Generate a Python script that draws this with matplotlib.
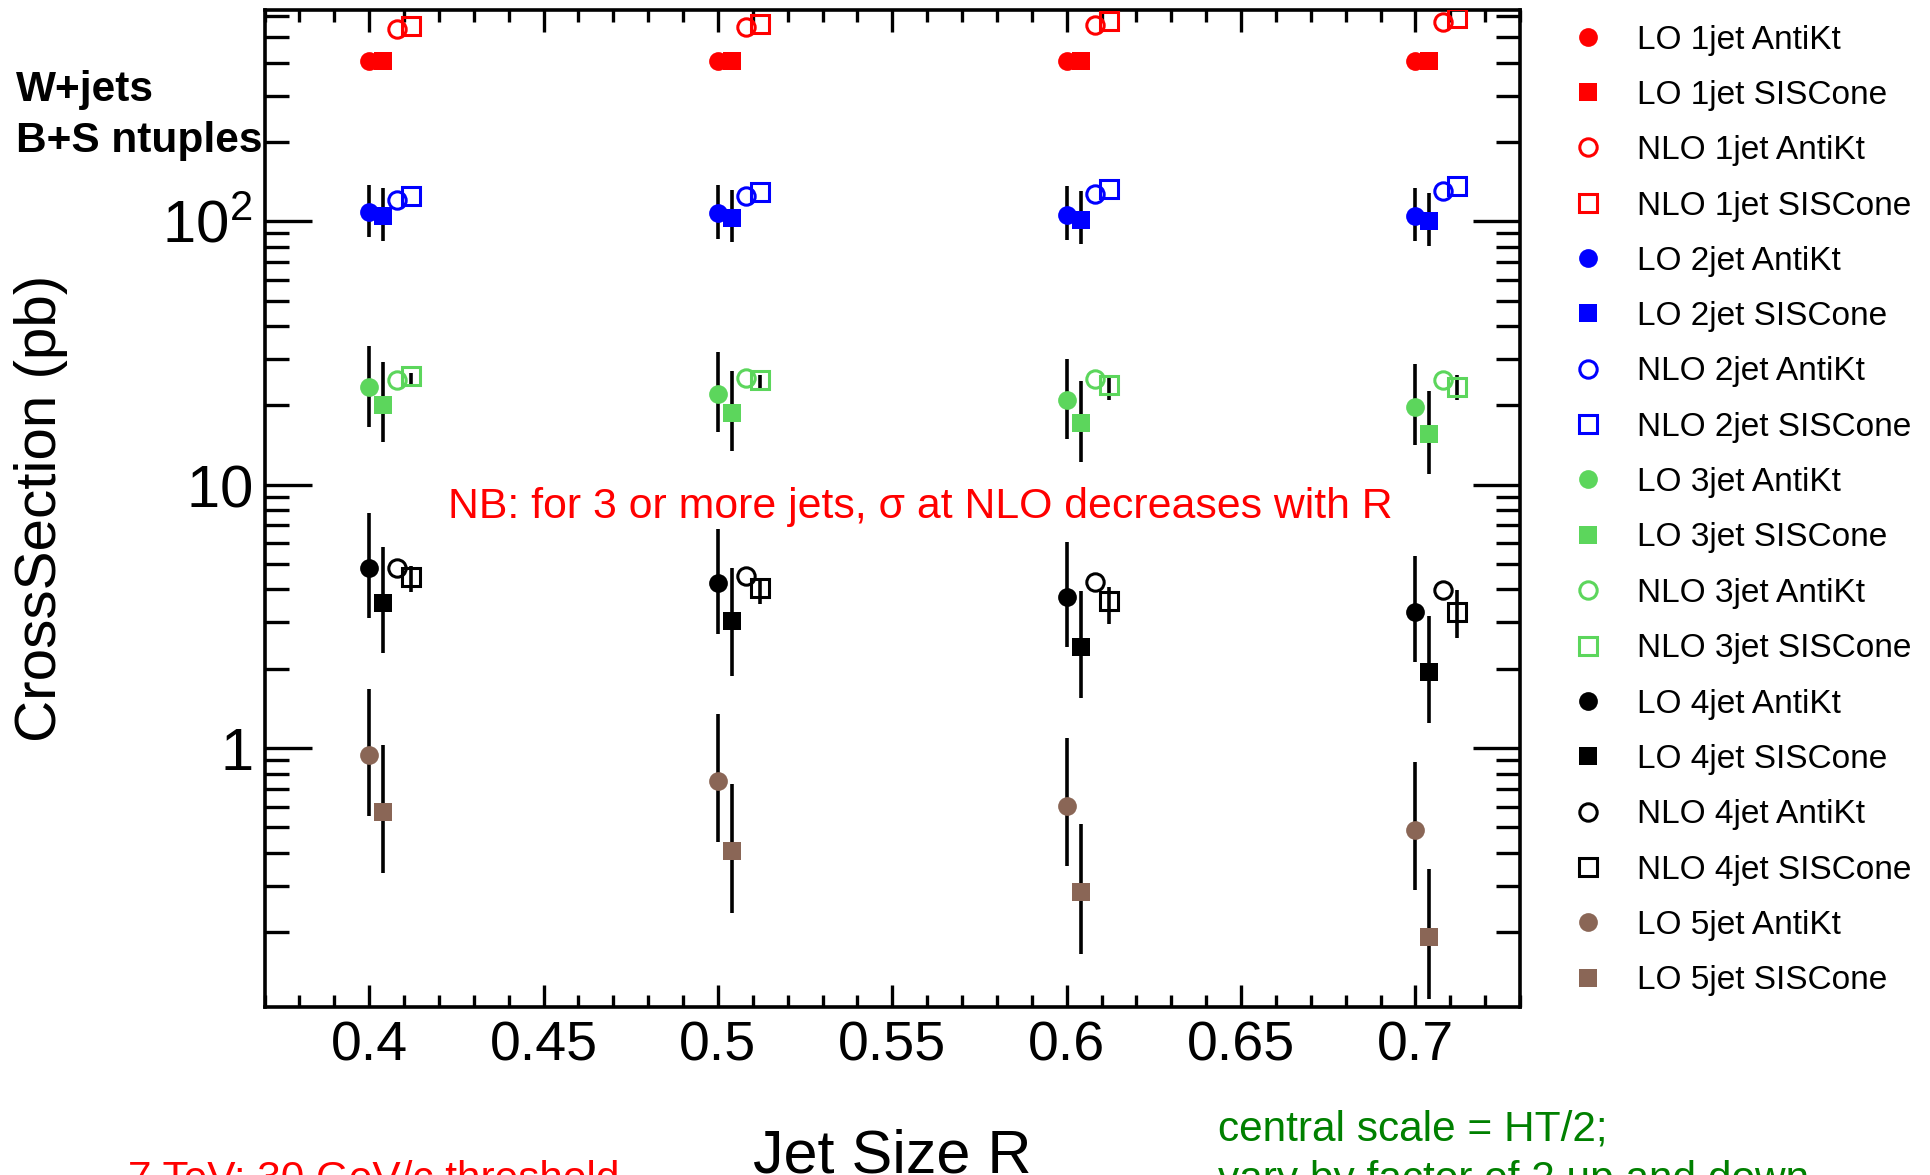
import matplotlib
matplotlib.use("Agg")
import matplotlib.pyplot as plt
import numpy as np
from matplotlib.ticker import MultipleLocator, LogLocator, StrMethodFormatter, NullFormatter

plt.rcParams['font.family'] = ['Liberation Sans', 'DejaVu Sans']
plt.rcParams['mathtext.fontset'] = 'custom'
plt.rcParams['mathtext.rm'] = 'Liberation Sans'
plt.rcParams['axes.formatter.min_exponent'] = 2

# jet size R, points of one R are drawn side by side
R = np.array([0.4, 0.5, 0.6, 0.7])
offsets = [0.0, 0.004, 0.008, 0.012]  # LO AntiKt, LO SISCone, NLO AntiKt, NLO SISCone

# cross sections (pb); *_lo / *_hi are scale-variation bounds
lo1_akt = [405, 405, 405, 405]
lo1_sis = [405, 405, 405, 405]
nlo1_akt = [535, 546, 558, 571]
nlo1_sis = [550, 561, 578, 591]

lo2_akt = [108, 107.6, 106, 105]
lo2_akt_lo = [86.9, 85.9, 85.1, 84.5]
lo2_akt_hi = [137.8, 137, 135.8, 133.7]
lo2_sis = [104.5, 103, 101.5, 100.6]
lo2_sis_lo = [84.5, 83.4, 82.0, 80.9]
lo2_sis_hi = [133.7, 131.9, 130, 128]
nlo2_akt = [120, 124.4, 127, 130]
nlo2_sis = [125, 129, 132.8, 135.8]

lo3_akt = [23.4, 22.1, 20.9, 19.8]
lo3_akt_lo = [16.5, 15.8, 14.9, 14.1]
lo3_akt_hi = [33.5, 31.8, 29.9, 28.6]
lo3_sis = [20.1, 18.7, 17.1, 15.6]
lo3_sis_lo = [14.5, 13.4, 12.2, 11.0]
lo3_sis_hi = [29.3, 27.1, 24.8, 22.6]
nlo3_akt = [25.0, 25.3, 25.2, 24.9]
nlo3_sis = [25.8, 24.9, 24.0, 23.5]
nlo3_sis_lo = [23.5, 22.6, 20.9, 21.0]
nlo3_sis_hi = [26.5, 26.0, 25.5, 26.0]

lo4_akt = [4.83, 4.24, 3.73, 3.30]
lo4_akt_lo = [3.13, 2.71, 2.41, 2.12]
lo4_akt_hi = [7.8, 6.8, 6.04, 5.34]
lo4_sis = [3.56, 3.03, 2.41, 1.94]
lo4_sis_lo = [2.30, 1.87, 1.55, 1.24]
lo4_sis_hi = [5.78, 4.83, 3.94, 3.16]
nlo4_akt = [4.81, 4.51, 4.26, 3.98]
nlo4_sis = [4.45, 4.06, 3.63, 3.30]
nlo4_sis_lo = [3.9, 3.52, 2.96, 2.61]
nlo4_sis_hi = [4.9, 4.39, 4.1, 3.98]

lo5_akt = [0.94, 0.748, 0.605, 0.49]
lo5_akt_lo = [0.554, 0.439, 0.356, 0.288]
lo5_akt_hi = [1.68, 1.35, 1.09, 0.883]
lo5_sis = [0.57, 0.406, 0.285, 0.191]
lo5_sis_lo = [0.335, 0.237, 0.166, 0.112]
lo5_sis_hi = [1.03, 0.731, 0.515, 0.346]

red, blue, green, black, brown = '#ff0000', '#0000ff', '#5cd65c', '#000000', '#8a6656'

# (label, values, low, high, colour, marker, filled, offset index)
series = [
    ('LO 1jet AntiKt', lo1_akt, None, None, red, 'o', True, 0),
    ('LO 1jet SISCone', lo1_sis, None, None, red, 's', True, 1),
    ('NLO 1jet AntiKt', nlo1_akt, None, None, red, 'o', False, 2),
    ('NLO 1jet SISCone', nlo1_sis, None, None, red, 's', False, 3),
    ('LO 2jet AntiKt', lo2_akt, lo2_akt_lo, lo2_akt_hi, blue, 'o', True, 0),
    ('LO 2jet SISCone', lo2_sis, lo2_sis_lo, lo2_sis_hi, blue, 's', True, 1),
    ('NLO 2jet AntiKt', nlo2_akt, None, None, blue, 'o', False, 2),
    ('NLO 2jet SISCone', nlo2_sis, None, None, blue, 's', False, 3),
    ('LO 3jet AntiKt', lo3_akt, lo3_akt_lo, lo3_akt_hi, green, 'o', True, 0),
    ('LO 3jet SISCone', lo3_sis, lo3_sis_lo, lo3_sis_hi, green, 's', True, 1),
    ('NLO 3jet AntiKt', nlo3_akt, None, None, green, 'o', False, 2),
    ('NLO 3jet SISCone', nlo3_sis, nlo3_sis_lo, nlo3_sis_hi, green, 's', False, 3),
    ('LO 4jet AntiKt', lo4_akt, lo4_akt_lo, lo4_akt_hi, black, 'o', True, 0),
    ('LO 4jet SISCone', lo4_sis, lo4_sis_lo, lo4_sis_hi, black, 's', True, 1),
    ('NLO 4jet AntiKt', nlo4_akt, None, None, black, 'o', False, 2),
    ('NLO 4jet SISCone', nlo4_sis, nlo4_sis_lo, nlo4_sis_hi, black, 's', False, 3),
    ('LO 5jet AntiKt', lo5_akt, lo5_akt_lo, lo5_akt_hi, brown, 'o', True, 0),
    ('LO 5jet SISCone', lo5_sis, lo5_sis_lo, lo5_sis_hi, brown, 's', True, 1),
]

W, H = 1930, 1175
fig = plt.figure(figsize=(W / 100, H / 100), dpi=100)
ax = fig.add_axes([264.6 / W, 1 - 1007 / H, (1520 - 264.6) / W, (1007 - 10) / H])

handles = []
for label, vals, lo, hi, col, mk, filled, k in series:
    x = R + offsets[k]
    y = np.array(vals)
    if lo is not None:
        yerr = [y - np.array(lo), np.array(hi) - y]
        ax.errorbar(x, y, yerr=yerr, fmt='none', ecolor='black', elinewidth=2.6,
                    capsize=0, zorder=2)
    if filled:
        h, = ax.plot(x, y, linestyle='none', marker=mk, markersize=13.5,
                     color=col, markeredgewidth=0, label=label, zorder=3)
    else:
        h, = ax.plot(x, y, linestyle='none', marker=mk, markersize=12.5,
                     markerfacecolor='none', markeredgecolor=col,
                     markeredgewidth=2.2, label=label, zorder=3)
    handles.append(h)

ax.set_yscale('log')
ax.set_xlim(0.37, 0.73)
ax.set_ylim(0.104, 634)

ax.xaxis.set_major_locator(MultipleLocator(0.05))
ax.xaxis.set_minor_locator(MultipleLocator(0.01))
ax.xaxis.set_major_formatter(StrMethodFormatter('{x:g}'))
ax.yaxis.set_major_locator(LogLocator(base=10))
ax.yaxis.set_minor_locator(LogLocator(base=10, subs=np.arange(2, 10)))
ax.yaxis.set_minor_formatter(NullFormatter())

for s in ax.spines.values():
    s.set_linewidth(2.6)
ax.tick_params(which='both', direction='in', top=True, right=True, width=2.4)
ax.tick_params(axis='x', which='major', length=16, labelsize=40, pad=10)
ax.tick_params(axis='x', which='minor', length=8.5)
ax.tick_params(axis='y', which='major', length=34, labelsize=43, pad=9)
ax.tick_params(axis='y', which='minor', length=17)

ax.set_ylabel('CrossSection (pb)', fontsize=42)
ax.yaxis.set_label_coords(-0.1566, 0.5)
ax.set_xlabel('Jet Size R', fontsize=44)
ax.xaxis.set_label_coords(0.5, -0.1214)

fig.text(16 / W, 1 - 101 / H, 'W+jets', fontsize=30.5, fontweight='bold', va='baseline')
fig.text(16 / W, 1 - 152 / H, 'B+S ntuples', fontsize=30.5, fontweight='bold', va='baseline')

fig.text(448 / W, 1 - 518 / H, 'NB: for 3 or more jets, σ at NLO decreases with R',
         fontsize=30.75, color='red', va='baseline')

fig.text(128 / W, 1 - 1190 / H, '7 TeV; 30 GeV/c threshold', fontsize=30.5,
         color='red', va='baseline')
fig.text(1218 / W, 1 - 1140 / H, 'central scale = HT/2;', fontsize=30.5,
         color='green', va='baseline')
fig.text(1218 / W, 1 - 1191 / H, 'vary by factor of 2 up and down', fontsize=30.5,
         color='green', va='baseline')

fig.legend(handles=handles, loc='upper left', bbox_to_anchor=(1571.3 / W, 1 - 24.5 / H),
           frameon=False, fontsize=24, borderpad=0, borderaxespad=0,
           handlelength=1.0, handletextpad=0.97, labelspacing=0.73, markerscale=1.0)

fig.savefig('out.png', dpi=100)
